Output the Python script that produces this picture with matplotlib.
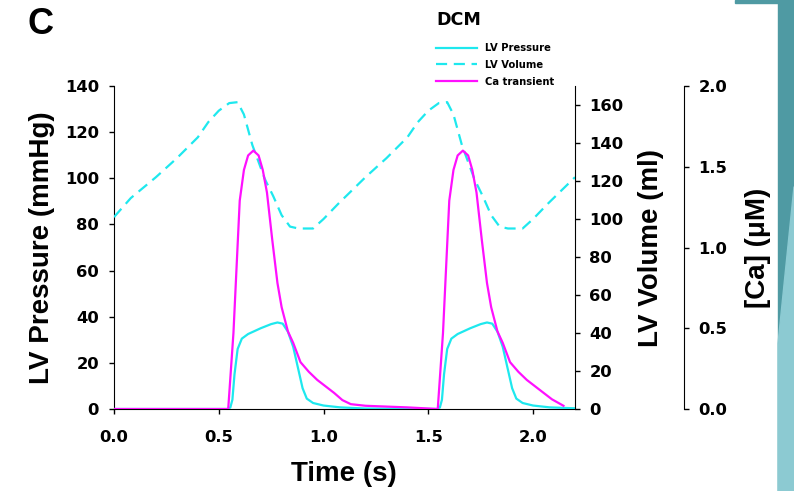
#!/usr/bin/env python
"""DCM panel C: LV pressure, LV volume and Ca transient over two beats."""

import matplotlib

matplotlib.use("Agg")
import matplotlib.pyplot as plt
from matplotlib.patches import Polygon, Rectangle

plt.rcParams["font.family"] = ["Liberation Sans", "DejaVu Sans"]
plt.rcParams["font.weight"] = "bold"

# LV pressure (mmHg)
p_time = [0.0, 0.54, 0.555, 0.565, 0.575, 0.59, 0.61, 0.64, 0.70, 0.75, 0.78, 0.805,
          0.83, 0.855, 0.88, 0.90, 0.92, 0.95, 1.0, 1.08, 1.2,
          1.54, 1.555, 1.565, 1.575, 1.59, 1.61, 1.64, 1.70, 1.75, 1.78, 1.805,
          1.83, 1.855, 1.88, 1.90, 1.92, 1.95, 2.0, 2.08, 2.2]
p_vals = [0.0, 0.0, 0.6, 4.0, 15.0, 26.0, 30.5, 32.5, 35.0, 36.8, 37.5, 37.0,
          33.5, 27.0, 17.0, 9.0, 4.5, 2.6, 1.5, 0.7, 0.2,
          0.0, 0.6, 4.0, 15.0, 26.0, 30.5, 32.5, 35.0, 36.8, 37.5, 37.0,
          33.5, 27.0, 17.0, 9.0, 4.5, 2.6, 1.5, 0.7, 0.3]

# LV volume (ml)
v_time = [0.0, 0.08, 0.2, 0.3, 0.4, 0.45, 0.5, 0.55, 0.59, 0.62, 0.66, 0.72, 0.76,
          0.80, 0.84, 0.88, 0.95, 1.0, 1.07, 1.2, 1.3, 1.4, 1.45, 1.5, 1.55, 1.59,
          1.62, 1.66, 1.72, 1.76, 1.80, 1.84, 1.88, 1.95, 2.0, 2.07, 2.2]
v_vals = [101, 111, 122, 132, 143, 151, 157, 161, 161.5, 155, 139, 121, 112,
          102, 96, 95, 95, 100, 108, 122, 132, 143, 151, 157, 161, 161.5,
          155, 139, 121, 112, 102, 96, 95, 95, 100, 108, 122]

# Ca transient (uM)
c_time = [0.0, 0.545, 0.57, 0.60, 0.62, 0.64, 0.665, 0.69, 0.71, 0.73, 0.755, 0.78,
          0.80, 0.83, 0.855, 0.89, 0.93, 0.97, 1.01, 1.05, 1.09, 1.13, 1.2, 1.3, 1.4,
          1.545, 1.57, 1.60, 1.62, 1.64, 1.665, 1.69, 1.71, 1.73, 1.755, 1.78,
          1.80, 1.83, 1.855, 1.89, 1.93, 1.97, 2.01, 2.05, 2.09, 2.145]
c_vals = [0.0, 0.0, 0.47, 1.29, 1.48, 1.57, 1.60, 1.57, 1.48, 1.34, 1.05, 0.78,
          0.63, 0.48, 0.41, 0.29, 0.23, 0.18, 0.14, 0.10, 0.055, 0.03, 0.02, 0.015, 0.01,
          0.0, 0.47, 1.29, 1.48, 1.57, 1.60, 1.57, 1.48, 1.34, 1.05, 0.78,
          0.63, 0.48, 0.41, 0.29, 0.23, 0.18, 0.14, 0.10, 0.06, 0.02]

CYAN = "#1ee8ee"
MAGENTA = "#ff10ff"
W, H = 794, 491


def style_ticks(ax, axis, pad):
    ax.tick_params(axis=axis, direction="out", length=3.3, width=1.0, pad=pad,
                   labelsize=11.8, labelfontfamily="DejaVu Sans")


def main() -> None:
    fig = plt.figure(figsize=(W / 100, H / 100), dpi=100)
    left, right, bottom, top = 114, 575, 409, 86
    rect = [left / W, (H - bottom) / H, (right - left) / W, (bottom - top) / H]

    ax = fig.add_axes(rect)
    ax_v = ax.twinx()
    ax_c = ax.twinx()
    ax_c.spines["right"].set_position(("axes", (684 - left) / (right - left)))

    ax.plot(p_time, p_vals, color=CYAN, lw=1.6, zorder=3)
    ax_v.plot(v_time, v_vals, color=CYAN, lw=1.6, ls=(0, (5, 3)))
    ax_c.plot(c_time, c_vals, color=MAGENTA, lw=1.6)

    ax.set_xlim(0, 2.2)
    ax.set_ylim(0, 140)
    ax_v.set_ylim(0, 170)
    ax_c.set_ylim(0, 2.0)
    ax.set_xticks([0.0, 0.5, 1.0, 1.5, 2.0])
    ax.set_xticklabels(["0.0", "0.5", "1.0", "1.5", "2.0"])
    ax.set_yticks(range(0, 141, 20))
    ax_v.set_yticks(range(0, 161, 20))
    ax_c.set_yticks([0.0, 0.5, 1.0, 1.5, 2.0])
    ax_c.set_yticklabels(["0.0", "0.5", "1.0", "1.5", "2.0"])

    for a in (ax, ax_v, ax_c):
        a.spines["top"].set_visible(False)
        a.patch.set_visible(False)
    style_ticks(ax, "x", 12)
    style_ticks(ax, "y", 7.5)
    style_ticks(ax_v, "y", 7.0)
    style_ticks(ax_c, "y", 7.0)
    ax.spines["right"].set_visible(False)
    ax_v.spines["left"].set_visible(False)
    ax_v.spines["bottom"].set_visible(False)
    ax_c.spines["left"].set_visible(False)
    ax_c.spines["bottom"].set_visible(False)

    ax.set_xlabel("Time (s)", fontsize=20, fontweight="bold")
    ax.set_ylabel("LV Pressure (mmHg)", fontsize=20, fontweight="bold")
    ax_v.set_ylabel("LV Volume (ml)", fontsize=20, fontweight="bold")
    ax_c.set_ylabel("[Ca] (μM)", fontsize=20, fontweight="bold")
    span = right - left
    height = bottom - top
    ax.xaxis.set_label_coords((344 - left) / span, (bottom - 461) / height)
    ax.yaxis.set_label_coords((55 - left) / span, 0.5)
    ax_v.yaxis.set_label_coords((638 - left) / span, 0.5)
    ax_c.yaxis.set_label_coords((745 - left) / span, 0.5)

    fig.text(27 / W, 1 - 25 / H, "C", fontsize=26, fontweight="bold", va="center")
    fig.text(436 / W, 1 - 20 / H, "DCM", family="DejaVu Sans", fontsize=12.6,
             fontweight="bold", va="center")

    handles = [
        plt.Line2D([], [], color=CYAN, lw=1.6),
        plt.Line2D([], [], color=CYAN, lw=1.6, ls=(0, (5, 3))),
        plt.Line2D([], [], color=MAGENTA, lw=1.6),
    ]
    fig.legend(handles, ["LV Pressure", "LV Volume", "Ca transient"],
               loc="upper left", bbox_to_anchor=(436 / W, 1 - 43 / H),
               frameon=False, prop={"family": "DejaVu Sans", "size": 7.2, "weight": "bold"},
               handlelength=4.1, handletextpad=0.8, labelspacing=0.68,
               borderpad=0, borderaxespad=0)

    # slide background strip on the right edge
    fig.patches.append(Rectangle((778 / W, 0), 16 / W, 1, transform=fig.transFigure,
                                 color="#4f9aa3", zorder=-1))
    fig.patches.append(Polygon([(778 / W, 0), (1, 0), (1, 0.62), (778 / W, 0.30)],
                               closed=True, transform=fig.transFigure,
                               color="#8ccad2", zorder=-1))
    fig.patches.append(Rectangle((735 / W, 1 - 3 / H), 59 / W, 3 / H,
                                 transform=fig.transFigure, color="#4f9aa3", zorder=-1))

    fig.savefig("out.png", dpi=100)
    plt.close(fig)


if __name__ == "__main__":
    main()
